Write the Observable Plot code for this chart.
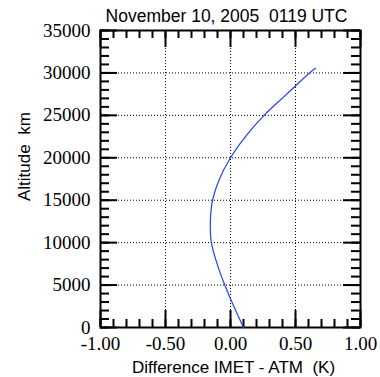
<!DOCTYPE html>
<html>
<head>
<meta charset="utf-8">
<script src="https://cdn.jsdelivr.net/npm/d3@7"></script>
<script src="https://cdn.jsdelivr.net/npm/@observablehq/plot@0.6"></script>
<style>
  html, body { margin: 0; padding: 0; background: #fff; }
</style>
</head>
<body>
<div id="chart"></div>
<script>
// Data
const altitude = [0, 2500, 5000, 7500, 10000, 12500, 15000, 17500, 20000, 22500, 25000, 27500, 30000, 30550];
const difference = [0.10, 0.025, -0.044, -0.103, -0.147, -0.155, -0.138, -0.085, 0.0, 0.115, 0.258, 0.432, 0.608, 0.654];

const xMajor = [-1, -0.5, 0, 0.5, 1];
const xGrid = [-0.5, 0, 0.5];
const xMinor = d3.range(-10, 11).map(i => i / 10);
const yMajor = [0, 5000, 10000, 15000, 20000, 25000, 30000, 35000];
const yGrid = [5000, 10000, 15000, 20000, 25000, 30000];
const yMinor = d3.range(0, 36).map(i => i * 1000);

const titleText = "November 10, 2005  0119 UTC";
const xLabel = "Difference IMET - ATM  (K)";
const yLabel = "Altitude  km";

const data = altitude.map((a, i) => ({alt: a, diff: difference[i]}));

const W = 380, H = 377;
const mL = 100, mR = 20, mT = 30, mB = 50;
const pw = W - mL - mR, ph = H - mT - mB;
const majorLen = 17, minorLenX = 8, minorLenY = 9;
const sans = "Liberation Sans, Arial, sans-serif";
const serif = "Liberation Serif, Times New Roman, serif";

const chart = Plot.plot({
  width: W,
  height: H,
  marginLeft: mL,
  marginRight: mR,
  marginTop: mT,
  marginBottom: mB,
  style: {fontFamily: serif, fontSize: "19px", color: "black", background: "white"},
  x: {domain: [-1, 1]},
  y: {domain: [0, 35000]},
  marks: [
    Plot.ruleX(xGrid, {x: d => d, stroke: "black", strokeWidth: 1, strokeDasharray: "1,2"}),
    Plot.ruleY(yGrid, {y: d => d, stroke: "black", strokeWidth: 1, strokeDasharray: "1,2"}),
    // bottom / top ticks (inward)
    Plot.tickX(xMinor, {x: d => d, insetTop: ph - minorLenX, stroke: "black", strokeWidth: 2}),
    Plot.tickX(xMinor, {x: d => d, insetBottom: ph - minorLenX, stroke: "black", strokeWidth: 2}),
    Plot.tickX(xMajor, {x: d => d, insetTop: ph - majorLen, stroke: "black", strokeWidth: 2}),
    Plot.tickX(xMajor, {x: d => d, insetBottom: ph - majorLen, stroke: "black", strokeWidth: 2}),
    // left / right ticks (inward)
    Plot.tickY(yMinor, {y: d => d, insetRight: pw - minorLenY, stroke: "black", strokeWidth: 2}),
    Plot.tickY(yMinor, {y: d => d, insetLeft: pw - minorLenY, stroke: "black", strokeWidth: 2}),
    Plot.tickY(yMajor, {y: d => d, insetRight: pw - majorLen, stroke: "black", strokeWidth: 2}),
    Plot.tickY(yMajor, {y: d => d, insetLeft: pw - majorLen, stroke: "black", strokeWidth: 2}),
    Plot.frame({stroke: "black", strokeWidth: 2}),
    Plot.line(data, {x: "diff", y: "alt", stroke: "#2343ff", strokeWidth: 1.2, curve: "catmull-rom"}),
    Plot.axisX(xMajor, {tickSize: 0, tickPadding: 9, tickFormat: d => d.toFixed(2), label: null, fontFamily: serif, fontSize: 19}),
    Plot.axisY(yMajor, {tickSize: 0, tickPadding: 10, tickFormat: d => String(d), label: null, fontFamily: serif, fontSize: 19}),
    Plot.text([titleText], {frameAnchor: "top", text: d => d, dx: -4, dy: -9, lineAnchor: "bottom", fontFamily: sans, fontSize: 17.5, fill: "black"}),
    Plot.text([xLabel], {frameAnchor: "bottom", text: d => d, dx: 3, dy: 40, lineAnchor: "middle", fontFamily: sans, fontSize: 17, fill: "black"}),
    Plot.text([yLabel], {frameAnchor: "left", text: d => d, dx: -76, dy: 22, rotate: -90, lineAnchor: "middle", fontFamily: sans, fontSize: 17, fill: "black"})
  ]
});
document.getElementById("chart").appendChild(chart);
</script>
</body>
</html>
